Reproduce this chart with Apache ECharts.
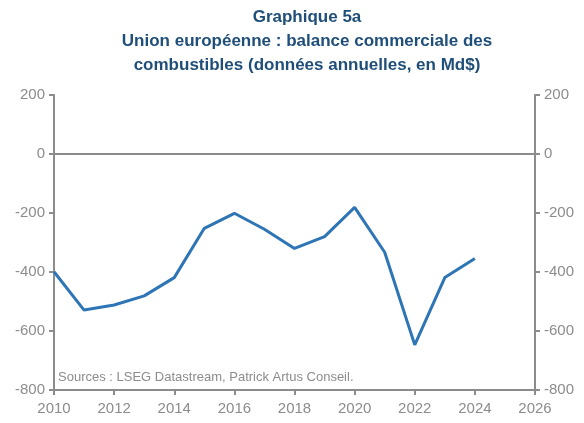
<!DOCTYPE html>
<html><head><meta charset="utf-8">
<script src="https://cdn.jsdelivr.net/npm/echarts@6/dist/echarts.min.js"></script>
<style>html,body{margin:0;padding:0;background:#fff}#c{width:584px;height:423px}</style>
</head><body><div id="c"></div>
<script>
const years = [2010,2011,2012,2013,2014,2015,2016,2017,2018,2019,2020,2021,2022,2023,2024];
const balance = [-399,-529,-512,-481,-419,-252,-201,-255,-320,-280,-181,-333,-647,-419,-354];
const titleLines = ['Graphique 5a','Union européenne : balance commerciale des','combustibles (données annuelles, en Md$)'];
const sourceText = 'Sources : LSEG Datastream, Patrick Artus Conseil.';

const axisColor = '#8c8c8c';
const labelColor = '#8c8c8c';
const fontFam = '"Liberation Sans", Arial, sans-serif';

const yAxisCommon = {
  type: 'value', min: -800, max: 200, interval: 200,
  axisLine: {show: true, lineStyle: {color: axisColor, width: 2}},
  axisTick: {show: true, length: 5, lineStyle: {color: axisColor, width: 2}},
  axisLabel: {color: labelColor, fontSize: 15, fontFamily: fontFam, margin: 9},
  splitLine: {show: false}
};

const chart = echarts.init(document.getElementById('c'));
chart.setOption({
  animation: false,
  title: {
    text: titleLines.join('\n'),
    left: 302, top: 0, textAlign: 'center',
    textStyle: {color: '#1f4e79', fontSize: 17, fontWeight: 'bold', fontFamily: fontFam, lineHeight: 24}
  },
  grid: {left: 54, right: 49, top: 95, bottom: 33},
  xAxis: {
    type: 'value', min: 2010, max: 2026, interval: 2,
    axisLine: {show: true, onZero: false, lineStyle: {color: axisColor, width: 2}},
    axisTick: {show: true, length: 5, lineStyle: {color: axisColor, width: 2}},
    axisLabel: {color: labelColor, fontSize: 15, fontFamily: fontFam, margin: 11, formatter: v => String(v)},
    splitLine: {show: false}
  },
  yAxis: [
    Object.assign({position: 'left'}, yAxisCommon),
    Object.assign({position: 'right'}, yAxisCommon)
  ],
  graphic: [{
    type: 'text', left: 58, top: 371,
    style: {text: sourceText, fill: '#8c8c8c', fontSize: 13, fontFamily: fontFam}
  }],
  series: [{
    type: 'line', yAxisIndex: 0,
    data: years.map((y, i) => [y, balance[i]]),
    showSymbol: false, symbol: 'none',
    lineStyle: {color: '#2e75b6', width: 3},
    markLine: {
      silent: true, symbol: 'none', label: {show: false},
      lineStyle: {color: axisColor, width: 2, type: 'solid'},
      data: [{yAxis: 0}]
    }
  }]
});
</script></body></html>
